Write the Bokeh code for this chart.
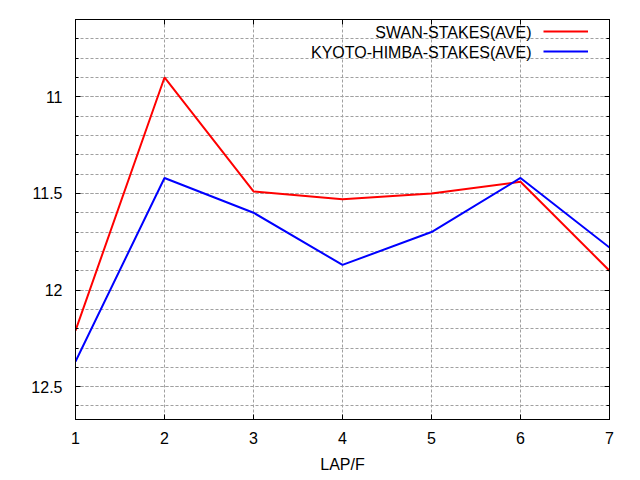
from bokeh.plotting import figure
from bokeh.models import (Range1d, FixedTicker, LinearAxis, Legend, LegendItem, Label)
from bokeh.embed import file_html
from bokeh.resources import INLINE

laps = [1, 2, 3, 4, 5, 6, 7]
swan = [12.21, 10.90, 11.49, 11.53, 11.50, 11.44, 11.90]
kyoto = [12.37, 11.42, 11.60, 11.87, 11.70, 11.42, 11.78]
series_names = ["SWAN-STAKES(AVE)", "KYOTO-HIMBA-STAKES(AVE)"]
x_ticks = [1, 2, 3, 4, 5, 6, 7]
y_major = [11, 11.5, 12, 12.5]
y_minor = [round(10.6 + 0.1 * i, 1) for i in range(21)]

FONT = "Liberation Sans"
FS = "16px"

p = figure(frame_width=534, frame_height=400, output_backend="svg",
           toolbar_location=None, x_range=Range1d(1, 7),
           y_range=Range1d(12.67, 10.6),
           min_border_left=75, min_border_right=31,
           min_border_top=19, min_border_bottom=61)
p.background_fill_color = "white"
p.border_fill_color = "white"
p.outline_line_color = "black"
p.outline_line_width = 1

xt = FixedTicker(ticks=x_ticks, minor_ticks=[])
yt = FixedTicker(ticks=y_major, minor_ticks=y_minor)
p.xaxis.ticker = xt
p.yaxis.ticker = yt

for ax in (p.xaxis[0], p.yaxis[0]):
    ax.major_tick_in = 5
    ax.major_tick_out = 0
    ax.minor_tick_in = 3
    ax.minor_tick_out = 0
    ax.axis_line_color = "black"
    ax.major_tick_line_color = "black"
    ax.minor_tick_line_color = "black"
    ax.major_label_text_font = FONT
    ax.major_label_text_font_size = FS
    ax.major_label_text_color = "black"

p.yaxis.major_label_standoff = 13
p.xaxis.major_label_standoff = 12
p.xaxis.axis_label = "LAP/F"
p.xaxis.axis_label_text_font = FONT
p.xaxis.axis_label_text_font_size = FS
p.xaxis.axis_label_text_font_style = "normal"
p.xaxis.axis_label_text_color = "black"
p.xaxis.axis_label_standoff = 9

# mirror axes
for loc, tk in (("right", yt), ("above", xt)):
    ax = LinearAxis(ticker=tk, major_tick_in=5, major_tick_out=0,
                    minor_tick_in=3, minor_tick_out=0,
                    major_label_text_font_size="0px",
                    major_label_standoff=0,
                    axis_line_color="black", major_tick_line_color="black",
                    minor_tick_line_color="black")
    ax.major_label_overrides = {t: "" for t in tk.ticks}
    p.add_layout(ax, loc)

p.xgrid.ticker = xt
p.ygrid.ticker = yt
for g in (p.xgrid[0], p.ygrid[0]):
    g.grid_line_color = "#a0a0a0"
    g.grid_line_dash = "3 2"
    g.grid_line_width = 1
p.ygrid.minor_grid_line_color = "#a0a0a0"
p.ygrid.minor_grid_line_dash = "3 2"
p.ygrid.minor_grid_line_width = 1

r1 = p.line(laps, swan, line_color="#ff0000", line_width=2)
r2 = p.line(laps, kyoto, line_color="#0000ff", line_width=2)

legend = Legend(items=[LegendItem(label=" ", renderers=[r1]),
                       LegendItem(label=" ", renderers=[r2])],
                location=(468, 358), orientation="vertical",
                glyph_width=45, glyph_height=20, label_height=20,
                label_width=0, label_standoff=0, padding=0, margin=0,
                spacing=0, background_fill_alpha=0, border_line_alpha=0,
                label_text_font_size="1px")
p.add_layout(legend)

for name, yy in zip(series_names, (387, 367.5)):
    p.add_layout(Label(x=456, y=yy, x_units="screen", y_units="screen",
                       text=name, text_align="right", text_baseline="middle",
                       text_font=FONT, text_font_size=FS, text_color="black"))

open("out.html", "w").write(file_html(p, INLINE))
